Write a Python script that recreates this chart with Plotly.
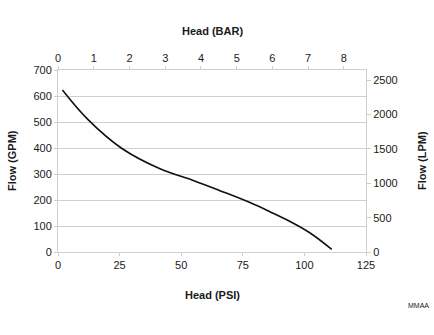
import plotly.graph_objects as go

# Data
head_psi = [1.8, 12.3, 25.8, 41.4, 54.9, 65.7, 77.9, 86.0, 94.2, 102.3, 111.1]
flow_gpm = [623, 508, 399, 320, 275, 236, 190, 155, 117, 73, 10]

psi_ticks = [0, 25, 50, 75, 100, 125]
gpm_ticks = [0, 100, 200, 300, 400, 500, 600, 700]
bar_ticks = [0, 1, 2, 3, 4, 5, 6, 7, 8]
lpm_ticks = [0, 500, 1000, 1500, 2000, 2500]

PSI_PER_BAR = 14.5038
LPM_PER_GPM = 3.78541

W, H = 434, 335
L, R, T, B = 58, 68, 70, 83

font = "Liberation Sans, Arial, sans-serif"
grey = "#cfcfcf"
txt = "#1a1a1a"

fig = go.Figure()
fig.add_trace(go.Scatter(x=head_psi, y=flow_gpm, mode="lines",
                         line=dict(color="#111111", width=1.6, shape="spline", smoothing=1.1),
                         showlegend=False, hoverinfo="skip"))
# same curve in BAR / LPM units on the secondary axes (invisible) so they render
fig.add_trace(go.Scatter(x=[p / PSI_PER_BAR for p in head_psi],
                         y=[g * LPM_PER_GPM for g in flow_gpm],
                         mode="lines", line=dict(color="rgba(0,0,0,0)", width=0),
                         xaxis="x2", yaxis="y2", showlegend=False, hoverinfo="skip"))

tickfont = dict(family=font, size=11, color=txt)
x_max = 125
y_max = 700

fig.update_layout(
    width=W, height=H,
    margin=dict(l=L, r=R, t=T, b=B),
    paper_bgcolor="white", plot_bgcolor="white",
    xaxis=dict(range=[0, x_max], tickvals=psi_ticks, showgrid=False, zeroline=False,
               showline=True, linecolor=grey, linewidth=1, ticks="outside", ticklen=3,
               tickcolor=grey, tickfont=tickfont, fixedrange=True),
    yaxis=dict(range=[0, y_max], tickvals=gpm_ticks, showgrid=True, gridcolor=grey,
               gridwidth=1, zeroline=False, showline=True, linecolor=grey, linewidth=1,
               ticks="outside", ticklen=3, tickcolor=grey, tickfont=tickfont),
    xaxis2=dict(range=[0, x_max / PSI_PER_BAR], tickvals=bar_ticks, overlaying="x",
                side="top", showgrid=False, zeroline=False, showline=True, linecolor=grey,
                linewidth=1, ticks="outside", ticklen=3, tickcolor=grey, tickfont=tickfont),
    yaxis2=dict(range=[0, y_max * LPM_PER_GPM], tickvals=lpm_ticks, overlaying="y",
                side="right", showgrid=False, zeroline=False, showline=True, linecolor=grey,
                linewidth=1, ticks="outside", ticklen=4, tickcolor=grey, tickfont=tickfont),
)

pw = W - L - R
ph = H - T - B
def px(x):
    return (x - L) / pw
def py(y):
    return (H - B - y) / ph

titlefont = dict(family=font, size=11, color=txt)
common = dict(xref="paper", yref="paper", showarrow=False, xanchor="center", yanchor="middle")
fig.add_annotation(text="<b>Head (BAR)</b>", x=px(212), y=py(31), font=titlefont, **common)
fig.add_annotation(text="<b>Head (PSI)</b>", x=px(212), y=py(295), font=titlefont, **common)
fig.add_annotation(text="<b>Flow (GPM)</b>", x=px(12), y=py(161), font=titlefont,
                   textangle=-90, **common)
fig.add_annotation(text="<b>Flow (LPM)</b>", x=px(422), y=py(161), font=titlefont,
                   textangle=-90, **common)
fig.add_annotation(text="MMAA", x=px(418), y=py(305), font=dict(family=font, size=7, color=txt),
                   **common)

fig.write_html("out.html")
